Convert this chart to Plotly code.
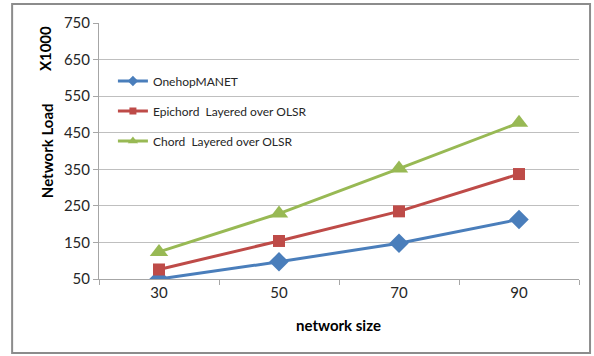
import plotly.graph_objects as go

# Network size (number of nodes) on the x axis
network_size = [30, 50, 70, 90]

# Network load (x1000) for each protocol
onehop_manet = [50, 97, 148, 213]
epichord_olsr = [76, 154, 235, 337]
chord_olsr = [124, 229, 352, 477]

y_ticks = [50, 150, 250, 350, 450, 550, 650, 750]

FONT = "Lato"
GRID = "#bfbfbf"
AXIS = "#a6a6a6"

fig = go.Figure()

# name, values, colour, marker symbol, plot marker size, legend marker size
series = [
    ("OnehopMANET", onehop_manet, "#4a7ebb", "diamond", 15, 8),
    ("Epichord  Layered over OLSR", epichord_olsr, "#be4b48", "square", 12, 7),
    ("Chord  Layered over OLSR", chord_olsr, "#98b954", "triangle-up", 16, 9),
]
for i, (name, values, color, symbol, size, legend_size) in enumerate(series):
    fig.add_trace(go.Scatter(
        x=network_size, y=values, name=name, mode="lines+markers",
        line=dict(color=color, width=3),
        marker=dict(symbol=symbol, size=size, color=color),
        showlegend=False,
    ))
    # legend entry with a smaller marker glyph
    fig.add_trace(go.Scatter(
        x=[None], y=[None], name=name, mode="lines+markers",
        line=dict(color=color, width=3),
        marker=dict(symbol=symbol, size=legend_size, color=color),
        legendgroup=f"g{i}",
    ))

fig.update_layout(
    width=594, height=356,
    margin=dict(l=99, r=15, t=23, b=77),
    paper_bgcolor="white", plot_bgcolor="white",
    font=dict(family=FONT, size=14, color="#262626"),
    showlegend=True,
    legend=dict(
        x=0.029, y=0.83, xanchor="left", yanchor="top",
        bgcolor="rgba(0,0,0,0)", font=dict(size=12, color="#262626"),
        traceorder="grouped", tracegroupgap=11, itemwidth=30,
    ),
    xaxis=dict(
        range=[20, 100], tickvals=network_size,
        ticktext=[str(v) for v in network_size],
        ticks="", showgrid=False, zeroline=False,
        showline=True, linecolor=AXIS, linewidth=1,
        minor=dict(tickvals=[20, 40, 60, 80, 100], ticks="outside",
                   ticklen=5, tickcolor=AXIS, showgrid=False),
        tickfont=dict(size=15),
    ),
    yaxis=dict(
        range=[50, 750], tickvals=y_ticks,
        ticks="outside", ticklen=5, tickcolor=AXIS,
        showgrid=True, gridcolor=GRID, gridwidth=1,
        zeroline=False, showline=True, linecolor=AXIS, linewidth=1,
        tickfont=dict(size=15),
    ),
    annotations=[
        dict(text="<b>X1000</b>", x=-0.1125, y=0.898, xref="paper", yref="paper",
             xanchor="center", yanchor="middle",
             textangle=-90, showarrow=False, font=dict(size=15, color="black")),
        dict(text="<b>Network Load</b>", x=-0.108, y=0.5, xref="paper", yref="paper",
             xanchor="center", yanchor="middle",
             textangle=-90, showarrow=False, font=dict(size=15, color="black")),
        dict(text="<b>network size</b>", x=0.498, y=-0.18, xref="paper", yref="paper",
             xanchor="center", yanchor="middle",
             showarrow=False, font=dict(size=15, color="black")),
    ],
    shapes=[
        dict(type="rect", xref="paper", yref="paper",
             x0=-0.181, x1=1.023, y0=-0.289, y1=1.074,
             line=dict(color="#8c8c8c", width=2), fillcolor="rgba(0,0,0,0)"),
    ],
)

fig.write_html("out.html")
